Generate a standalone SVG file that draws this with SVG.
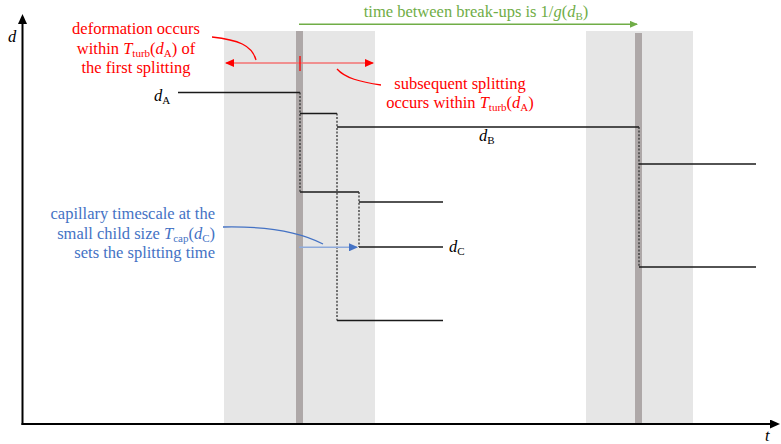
<svg xmlns="http://www.w3.org/2000/svg" width="781" height="444" viewBox="0 0 781 444">
<defs>
<style>
.band{fill:#e6e6e6}
.strip{fill:#aea8a8}
.ln{stroke:#1a1a1a;stroke-width:1.3;fill:none}
.dot{stroke:#333;stroke-width:1.3;stroke-dasharray:2 1.6;fill:none}
.axis{stroke:#000;stroke-width:2;fill:none}
text{font-family:'Liberation Serif','DejaVu Serif',serif;font-size:16.5px}
.red{fill:#ff0000}
.blue{fill:#4472c4}
.green{fill:#70ad47}
.it{font-style:italic}
.sub{font-size:11px}
</style>
<marker id="ahAxis" markerUnits="userSpaceOnUse" viewBox="0 0 10 9" markerWidth="10" markerHeight="9" refX="7" refY="4.5" orient="auto"><path d="M0,0 L10,4.5 L0,9 z" fill="#000"/></marker>
<marker id="ahRed" markerUnits="userSpaceOnUse" viewBox="0 0 9 8" markerWidth="9" markerHeight="8" refX="8" refY="4" orient="auto-start-reverse"><path d="M0,0 L9,4 L0,8 z" fill="#ff0000"/></marker>
<marker id="ahGreen" markerUnits="userSpaceOnUse" viewBox="0 0 8 7" markerWidth="8" markerHeight="7" refX="7" refY="3.5" orient="auto"><path d="M0,0 L8,3.5 L0,7 z" fill="#70ad47"/></marker>
<marker id="ahBlue" markerUnits="userSpaceOnUse" viewBox="0 0 9 8" markerWidth="9" markerHeight="8" refX="8" refY="4" orient="auto"><path d="M0,0 L9,4 L0,8 z" fill="#4472c4"/></marker>
</defs>
<rect width="781" height="444" fill="#fff"/>
<g id="bands">
<rect class="band" x="224" y="31" width="151" height="393"/>
<rect class="band" x="586" y="31" width="107" height="393"/>
<rect class="strip" x="296" y="31" width="7" height="393"/>
<rect class="strip" x="635" y="33" width="7" height="391"/>
</g>
<g id="axes">
<path class="axis" d="M22.5,425 V17" marker-end="url(#ahAxis)"/>
<path class="axis" d="M21.5,424 H777" marker-end="url(#ahAxis)"/>
<text class="it" x="8" y="42" font-size="15">d</text>
<text class="it" x="765" y="441" font-size="13">t</text>
</g>
<g id="sizes">
<path class="ln" d="M178,92.5 H300"/>
<path class="ln" d="M300,113.5 H337"/>
<path class="ln" d="M337,127 H639"/>
<path class="ln" d="M300,192 H359"/>
<path class="ln" d="M359,202 H443"/>
<path class="ln" d="M359,247 H443"/>
<path class="ln" d="M337,320.5 H443"/>
<path class="ln" d="M639,164 H756"/>
<path class="ln" d="M639,267 H756"/>
</g>
<g id="splits">
<path class="dot" d="M300,92.5 V192"/>
<path class="dot" d="M337,113.5 V320.5"/>
<path class="dot" d="M359,192 V247"/>
<path class="dot" d="M639,127 V267"/>
</g>
<g id="labels">
<text class="it" x="154" y="101" font-size="17">d<tspan class="sub" font-style="normal" dy="3">A</tspan></text>
<text class="it" x="479" y="141">d<tspan class="sub" font-style="normal" dy="3">B</tspan></text>
<text class="it" x="449" y="252">d<tspan class="sub" font-style="normal" dy="3">C</tspan></text>
</g>
<g id="connectors">
<path d="M226,63 H373" stroke="#f37272" stroke-width="1.5" fill="none" marker-start="url(#ahRed)" marker-end="url(#ahRed)"/>
<path d="M300,56 V71" stroke="#ff0000" stroke-width="1.3"/>
<path d="M212,37 C238,40 252,45 256,60" stroke="#ff0000" stroke-width="1.3" fill="none"/>
<path d="M337,69 C345,78 360,82 381,85" stroke="#ff0000" stroke-width="1.3" fill="none"/>
<path d="M299,24.3 H637" stroke="#70ad47" stroke-width="1.5" fill="none" marker-end="url(#ahGreen)"/>
<path d="M223,227 C270,226 300,232 323,244" stroke="#4472c4" stroke-width="1.3" fill="none"/>
<path d="M299,247.3 H357" stroke="#8eaadb" stroke-width="1.5" fill="none" marker-end="url(#ahBlue)"/>
</g>
<g id="note-deformation">
<text class="red" x="136" y="34" text-anchor="middle">deformation occurs</text>
<text class="red" x="136" y="54" text-anchor="middle">within <tspan class="it">T</tspan><tspan class="sub" dy="3">turb</tspan><tspan dy="-3">(</tspan><tspan class="it">d</tspan><tspan class="sub" dy="3">A</tspan><tspan dy="-3">) of</tspan></text>
<text class="red" x="136" y="73" text-anchor="middle">the first splitting</text>
</g>
<g id="note-subsequent">
<text class="red" x="460" y="89" text-anchor="middle">subsequent splitting</text>
<text class="red" x="460" y="108" text-anchor="middle">occurs within <tspan class="it">T</tspan><tspan class="sub" dy="3">turb</tspan><tspan dy="-3">(</tspan><tspan class="it">d</tspan><tspan class="sub" dy="3">A</tspan><tspan dy="-3">)</tspan></text>
</g>
<g id="note-breakup">
<text class="green" x="476" y="17" text-anchor="middle">time between break-ups is 1/<tspan class="it">g</tspan>(<tspan class="it">d</tspan><tspan class="sub" dy="3">B</tspan><tspan dy="-3">)</tspan></text>
</g>
<g id="note-capillary">
<text class="blue" x="215" y="219" text-anchor="end">capillary timescale at the</text>
<text class="blue" x="215" y="239" text-anchor="end">small child size <tspan class="it">T</tspan><tspan class="sub" dy="3">cap</tspan><tspan dy="-3">(</tspan><tspan class="it">d</tspan><tspan class="sub" dy="3">C</tspan><tspan dy="-3">)</tspan></text>
<text class="blue" x="215" y="258" text-anchor="end">sets the splitting time</text>
</g>
</svg>
